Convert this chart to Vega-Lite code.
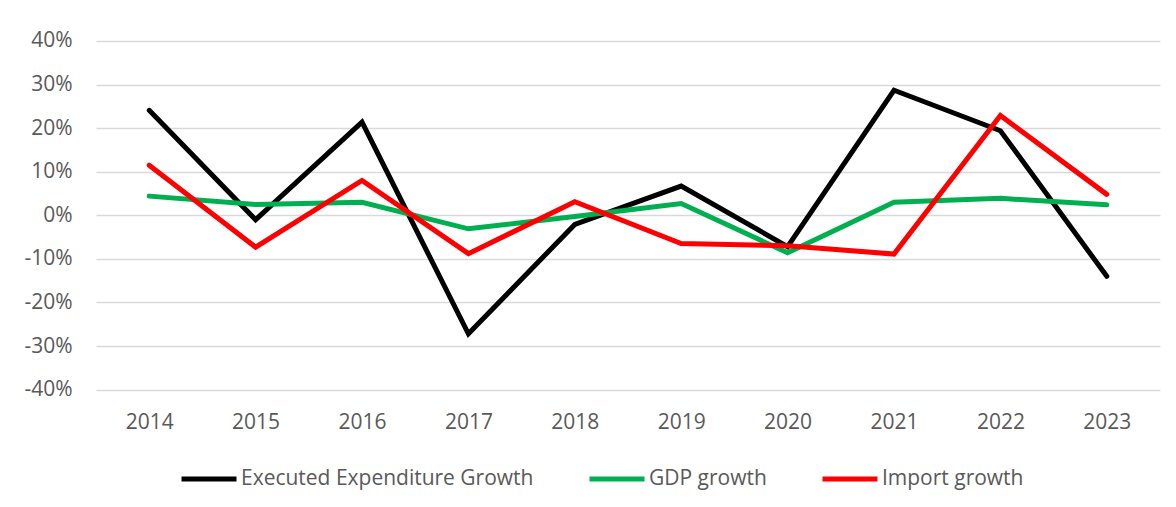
{
  "$schema": "https://vega.github.io/schema/vega-lite/v6.json",
  "autosize": {"type": "none"},
  "width": 1064,
  "height": 348.6,
  "padding": {"left": 96, "top": 41, "right": 16, "bottom": 117},
  "background": "white",
  "data": {
    "values": [
      {"year": "2014", "series": "Executed Expenditure Growth", "value": 24.1},
      {"year": "2015", "series": "Executed Expenditure Growth", "value": -1.0},
      {"year": "2016", "series": "Executed Expenditure Growth", "value": 21.4},
      {"year": "2017", "series": "Executed Expenditure Growth", "value": -27.2},
      {"year": "2018", "series": "Executed Expenditure Growth", "value": -2.1},
      {"year": "2019", "series": "Executed Expenditure Growth", "value": 6.7},
      {"year": "2020", "series": "Executed Expenditure Growth", "value": -7.2},
      {"year": "2021", "series": "Executed Expenditure Growth", "value": 28.7},
      {"year": "2022", "series": "Executed Expenditure Growth", "value": 19.4},
      {"year": "2023", "series": "Executed Expenditure Growth", "value": -14.0},
      {"year": "2014", "series": "GDP growth", "value": 4.4},
      {"year": "2015", "series": "GDP growth", "value": 2.5},
      {"year": "2016", "series": "GDP growth", "value": 3.0},
      {"year": "2017", "series": "GDP growth", "value": -3.1},
      {"year": "2018", "series": "GDP growth", "value": -0.3},
      {"year": "2019", "series": "GDP growth", "value": 2.7},
      {"year": "2020", "series": "GDP growth", "value": -8.6},
      {"year": "2021", "series": "GDP growth", "value": 3.0},
      {"year": "2022", "series": "GDP growth", "value": 3.9},
      {"year": "2023", "series": "GDP growth", "value": 2.4},
      {"year": "2014", "series": "Import growth", "value": 11.5},
      {"year": "2015", "series": "Import growth", "value": -7.3},
      {"year": "2016", "series": "Import growth", "value": 8.0},
      {"year": "2017", "series": "Import growth", "value": -8.8},
      {"year": "2018", "series": "Import growth", "value": 3.1},
      {"year": "2019", "series": "Import growth", "value": -6.5},
      {"year": "2020", "series": "Import growth", "value": -7.0},
      {"year": "2021", "series": "Import growth", "value": -8.9},
      {"year": "2022", "series": "Import growth", "value": 22.9},
      {"year": "2023", "series": "Import growth", "value": 4.8}
    ]
  },
  "mark": {"type": "line", "strokeWidth": 5, "strokeJoin": "miter", "strokeCap": "round"},
  "encoding": {
    "x": {
      "field": "year", "type": "ordinal",
      "scale": {"type": "point", "padding": 0.5},
      "axis": {
        "title": null, "labelAngle": 0, "ticks": false, "domain": false, "grid": false,
        "labelPadding": 22, "labelFontSize": 21, "labelColor": "#595959", "labelFont": "Open Sans"
      }
    },
    "y": {
      "field": "value", "type": "quantitative",
      "scale": {"domain": [-40, 40], "nice": false, "zero": false},
      "axis": {
        "title": null, "values": [-40, -30, -20, -10, 0, 10, 20, 30, 40],
        "labelExpr": "datum.value + '%'",
        "ticks": false, "domain": false, "grid": true,
        "gridColor": "#D9D9D9", "gridWidth": 1.3,
        "labelPadding": 24, "labelFontSize": 21, "labelColor": "#595959", "labelFont": "Open Sans"
      }
    },
    "color": {
      "field": "series", "type": "nominal",
      "scale": {
        "domain": ["Executed Expenditure Growth", "GDP growth", "Import growth"],
        "range": ["#000000", "#00B050", "#FF0000"]
      },
      "legend": {
        "title": null, "orient": "none", "direction": "horizontal",
        "legendX": 83, "legendY": 408,
        "symbolType": "stroke", "symbolSize": 3025, "symbolStrokeWidth": 5,
        "labelFontSize": 21, "labelColor": "#595959", "labelFont": "Open Sans",
        "labelOffset": 2, "columnPadding": 45, "labelLimit": 500
      }
    }
  },
  "config": {"view": {"stroke": null}}
}
